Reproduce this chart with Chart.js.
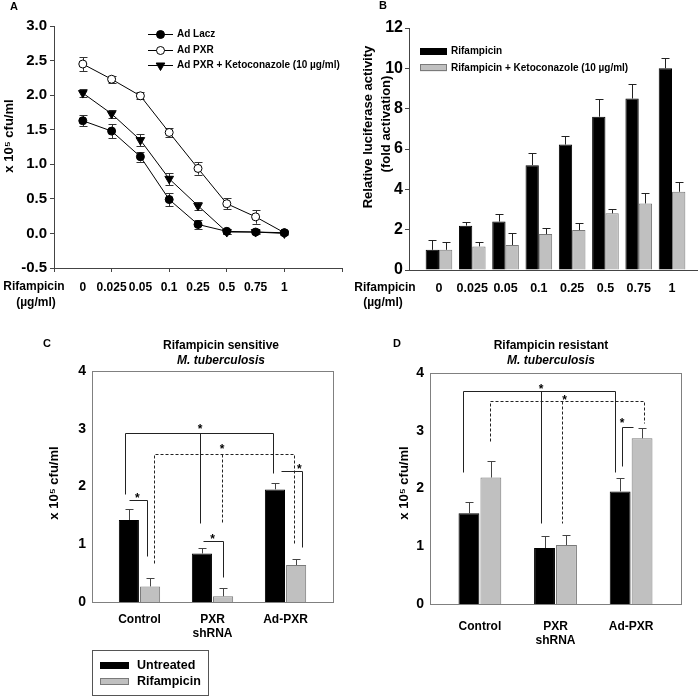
<!DOCTYPE html>
<html>
<head>
<meta charset="utf-8">
<script src="https://cdn.jsdelivr.net/npm/chart.js@4/dist/chart.umd.min.js"></script>
<style>
  body { margin: 0; background: #fff; width: 700px; height: 697px; position: relative; overflow: hidden; }
  canvas { position: absolute; }
</style>
</head>
<body>
<canvas id="chartA" width="350" height="340" style="left:0;top:0"></canvas>
<canvas id="chartB" width="350" height="340" style="left:350px;top:0"></canvas>
<canvas id="chartC" width="350" height="361" style="left:0;top:336px"></canvas>
<canvas id="chartD" width="350" height="361" style="left:350px;top:336px"></canvas>
<script>
// ---- data ----
const doseLabels = ['0', '0.025', '0.05', '0.1', '0.25', '0.5', '0.75', '1'];

// panel A, x 10^5 cfu/ml
const adLacz = [1.63, 1.48, 1.11, 0.49, 0.13, 0.03, 0.02, 0.01];
const adLaczErr = [0.08, 0.10, 0.07, 0.10, 0.07, 0.04, 0.03, 0.02];
const adPxr = [2.45, 2.23, 1.99, 1.46, 0.94, 0.43, 0.24, 0.01];
const adPxrErr = [0.10, 0.05, 0.05, 0.07, 0.09, 0.08, 0.10, 0.02];
const adPxrKeto = [2.03, 1.73, 1.35, 0.79, 0.40, 0.02, 0.02, 0.00];
const adPxrKetoErr = [0.06, 0.06, 0.09, 0.09, 0.06, 0.03, 0.02, 0.02];

// panel B, fold activation
const lucRif = [1.0, 2.2, 2.4, 5.2, 6.22, 7.6, 8.5, 10.0];
const lucRifErr = [0.5, 0.2, 0.4, 0.6, 0.4, 0.9, 0.7, 0.5];
const lucKeto = [1.0, 1.17, 1.24, 1.78, 1.98, 2.81, 3.3, 3.88];
const lucKetoErr = [0.4, 0.2, 0.6, 0.3, 0.35, 0.2, 0.53, 0.5];

// panels C and D
const groups = [['Control'], ['PXR', 'shRNA'], ['Ad-PXR']];
const sensUntreated = [1.42, 0.84, 1.95];
const sensUntreatedErr = [0.19, 0.09, 0.11];
const sensRif = [0.27, 0.10, 0.64];
const sensRifErr = [0.14, 0.14, 0.11];
const resUntreated = [1.57, 0.97, 1.95];
const resUntreatedErr = [0.20, 0.20, 0.24];
const resRif = [2.19, 1.02, 2.87];
const resRifErr = [0.28, 0.17, 0.17];

// significance brackets (data coords) and stars
const sensBrackets = [
  { dash: false, pts: [[0.80, 1.87], [0.80, 2.92], [2.83, 2.92], [2.83, 2.24]] },
  { dash: false, pts: [[1.83, 2.92], [1.83, 1.36]] },
  { dash: true, pts: [[1.20, 0.67], [1.20, 2.56], [3.11, 2.56], [3.11, 1.01]] },
  { dash: true, pts: [[2.13, 2.56], [2.13, 1.36]] },
  { dash: false, pts: [[0.85, 1.76], [1.10, 1.76], [1.10, 0.79]] },
  { dash: false, pts: [[1.87, 1.06], [2.15, 1.06], [2.15, 0.43]] },
  { dash: false, pts: [[2.94, 2.27], [3.22, 2.27], [3.22, 0.96]] }
];
const sensStars = [[1.83, 3.05], [2.13, 2.70], [0.97, 1.85], [2.0, 1.15], [3.19, 2.36]];
const resBrackets = [
  { dash: false, pts: [[0.78, 2.29], [0.78, 3.68], [2.79, 3.68], [2.79, 2.28]] },
  { dash: false, pts: [[1.81, 3.68], [1.81, 1.41]] },
  { dash: true, pts: [[1.13, 2.83], [1.13, 3.51], [3.17, 3.51], [3.17, 3.14]] },
  { dash: true, pts: [[2.09, 3.51], [2.09, 1.41]] },
  { dash: false, pts: [[2.88, 2.39], [2.88, 3.07], [3.03, 3.07]] }
];
const resStars = [[1.81, 3.78], [2.12, 3.59], [2.88, 3.19]];

// ---- helpers ----
const FAMILY = '"Liberation Sans", Arial, Helvetica, sans-serif';
const bold = (size, style = '') => `${style} bold ${size}px ${FAMILY}`;
const pts = arr => arr.map((v, i) => ({ x: i + 1, y: v }));

function text(ctx, s, x, y, font, align = 'center') {
  ctx.save();
  ctx.font = font;
  ctx.fillStyle = '#000';
  ctx.textAlign = align;
  ctx.textBaseline = 'middle';
  ctx.fillText(s, x, y);
  ctx.restore();
}
function vtext(ctx, s, x, y, font) {
  ctx.save();
  ctx.translate(x, y);
  ctx.rotate(-Math.PI / 2);
  text(ctx, s, 0, 0, font);
  ctx.restore();
}

function errorBars(id, mode, color, cap) {
  const draw = chart => {
    const ctx = chart.ctx, ys = chart.scales.y;
    ctx.save();
    ctx.strokeStyle = color;
    ctx.lineWidth = 1;
    chart.data.datasets.forEach((ds, di) => {
      const meta = chart.getDatasetMeta(di);
      meta.data.forEach((el, i) => {
        const v = ds.data[i].y, e = ds.err[i];
        const x = Math.round(el.x) + 0.5;
        const yTop = Math.round(ys.getPixelForValue(v + e)) + 0.5;
        const yBot = ys.getPixelForValue(mode === 'both' ? v - e : v);
        ctx.beginPath();
        ctx.moveTo(x, yBot);
        ctx.lineTo(x, yTop);
        ctx.moveTo(x - cap, yTop);
        ctx.lineTo(x + cap, yTop);
        if (mode === 'both') {
          const yb = Math.round(yBot) + 0.5;
          ctx.moveTo(x - cap, yb);
          ctx.lineTo(x + cap, yb);
        }
        ctx.stroke();
      });
    });
    ctx.restore();
  };
  return mode === 'both' ? { id, beforeDatasetsDraw: draw } : { id, afterDatasetsDraw: draw };
}

function brackets(lines, stars) {
  return {
    id: 'brackets',
    afterDatasetsDraw(chart) {
      const ctx = chart.ctx, xs = chart.scales.x, ys = chart.scales.y;
      ctx.save();
      ctx.strokeStyle = '#222';
      ctx.lineWidth = 1;
      lines.forEach(b => {
        ctx.setLineDash(b.dash ? [3, 2] : []);
        ctx.beginPath();
        b.pts.forEach(([vx, vy], k) => {
          const px = Math.round(xs.getPixelForValue(vx)) + 0.5;
          const py = Math.round(ys.getPixelForValue(vy)) + 0.5;
          if (k) ctx.lineTo(px, py); else ctx.moveTo(px, py);
        });
        ctx.stroke();
      });
      ctx.setLineDash([]);
      ctx.fillStyle = '#000';
      ctx.font = bold(12);
      ctx.textAlign = 'center';
      ctx.textBaseline = 'alphabetic';
      stars.forEach(([vx, vy]) => ctx.fillText('*', xs.getPixelForValue(vx), ys.getPixelForValue(vy) + 7));
      ctx.restore();
    }
  };
}

const boxPlugin = {
  id: 'box',
  afterDraw(chart) {
    const { left, top, right, bottom } = chart.chartArea;
    const ctx = chart.ctx;
    ctx.save();
    ctx.strokeStyle = '#808080';
    ctx.lineWidth = 1;
    ctx.strokeRect(Math.round(left) + 0.5, Math.round(top) + 0.5, Math.round(right - left), Math.round(bottom - top));
    ctx.restore();
  }
};

const tickFont = size => ({ family: FAMILY, size, weight: 'bold' });
const baseOpts = {
  responsive: false,
  animation: false,
  events: [],
  plugins: { legend: { display: false }, tooltip: { enabled: false } }
};

// ---- A: line chart ----
new Chart(document.getElementById('chartA'), {
  type: 'line',
  data: {
    datasets: [
      { label: 'Ad Lacz', data: pts(adLacz), err: adLaczErr, borderColor: '#000', borderWidth: 1,
        pointStyle: 'circle', pointRadius: 4, pointBackgroundColor: '#000', pointBorderColor: '#000' },
      { label: 'Ad PXR', data: pts(adPxr), err: adPxrErr, borderColor: '#000', borderWidth: 1,
        pointStyle: 'circle', pointRadius: 4, pointBackgroundColor: '#fff', pointBorderColor: '#000' },
      { label: 'Ad PXR + Ketoconazole (10 µg/ml)', data: pts(adPxrKeto), err: adPxrKetoErr, borderColor: '#000', borderWidth: 1,
        pointStyle: 'triangle', pointRotation: 180, pointRadius: 5, pointBackgroundColor: '#000', pointBorderColor: '#000' }
    ]
  },
  options: {
    ...baseOpts,
    layout: { padding: { top: 26, right: 3 } },
    scales: {
      x: {
        type: 'linear', min: 0, max: 10,
        afterBuildTicks: s => { s.ticks = Array.from({ length: 11 }, (_, v) => ({ value: v })); },
        afterFit: s => { s.height = 72; },
        grid: { drawOnChartArea: false, tickLength: 4, tickColor: c => (c.tick && c.tick.value % 2 === 0 ? '#444' : 'rgba(0,0,0,0)') },
        border: { color: '#444' },
        ticks: { autoSkip: false, maxRotation: 0, padding: 8, color: '#000', font: tickFont(12),
          callback: v => doseLabels[v - 1] ?? '' }
      },
      y: {
        min: -0.5, max: 3,
        afterFit: s => { s.width = 54; },
        grid: { drawOnChartArea: false, tickLength: 4, tickColor: '#444' },
        border: { color: '#444' },
        ticks: { stepSize: 0.5, padding: 3, color: '#000', font: tickFont(15), callback: v => v.toFixed(1) }
      }
    }
  },
  plugins: [errorBars('errA', 'both', '#333', 4), {
    id: 'decorA',
    afterDraw(chart) {
      const ctx = chart.ctx;
      text(ctx, 'A', 14, 7, bold(11));
      text(ctx, 'Rifampicin', 34, 287, bold(12));
      text(ctx, '(µg/ml)', 36, 303, bold(12));
      vtext(ctx, 'x 10⁵ cfu/ml', 9, 136, bold(13));
      chart.data.datasets.forEach((ds, i) => {
        const y = Math.round(34 + i * 15.7) + 0.5;
        ctx.save();
        ctx.strokeStyle = '#000';
        ctx.lineWidth = 1;
        ctx.beginPath();
        ctx.moveTo(148, y);
        ctx.lineTo(173, y);
        ctx.stroke();
        ctx.fillStyle = ds.pointBackgroundColor;
        ctx.strokeStyle = ds.pointBorderColor;
        Chart.helpers.drawPoint(ctx, { pointStyle: ds.pointStyle, radius: ds.pointRadius, rotation: ds.pointRotation || 0, borderWidth: 1 }, 160.5, y);
        ctx.restore();
        text(ctx, ds.label, 177, y, bold(10), 'left');
      });
    }
  }]
});

// ---- B: grouped bars ----
new Chart(document.getElementById('chartB'), {
  type: 'bar',
  data: {
    datasets: [
      { label: 'Rifampicin', data: pts(lucRif), err: lucRifErr, backgroundColor: '#000', borderColor: '#000', borderWidth: 1 },
      { label: 'Rifampicin + Ketoconazole (10 µg/ml)', data: pts(lucKeto), err: lucKetoErr, backgroundColor: '#c0c0c0', borderColor: '#7a7a7a', borderWidth: 1 }
    ]
  },
  options: {
    ...baseOpts,
    categoryPercentage: 0.8,
    barPercentage: 1.0,
    layout: { padding: { top: 28, right: 3 } },
    scales: {
      x: {
        type: 'linear', min: 0.1, max: 8.75, offset: false,
        afterBuildTicks: s => { s.ticks = doseLabels.map((_, i) => ({ value: i + 1 })); },
        afterFit: s => { s.height = 70; },
        grid: { display: true, drawOnChartArea: false, drawTicks: false, offset: false },
        border: { color: '#444' },
        ticks: { autoSkip: false, maxRotation: 0, padding: 11, color: '#000', font: tickFont(12.5),
          callback: v => doseLabels[v - 1] ?? '' }
      },
      y: {
        min: 0, max: 12,
        afterFit: s => { s.width = 59; },
        grid: { drawOnChartArea: false, tickLength: 4, tickColor: '#444' },
        border: { color: '#444' },
        ticks: { stepSize: 2, padding: 2, color: '#000', font: tickFont(16) }
      }
    }
  },
  plugins: [errorBars('errB', 'up', '#222', 4), {
    id: 'decorB',
    afterDraw(chart) {
      const ctx = chart.ctx;
      text(ctx, 'B', 33, 6, bold(11));
      text(ctx, 'Rifampicin', 35, 288, bold(12));
      text(ctx, '(µg/ml)', 33, 303, bold(12));
      vtext(ctx, 'Relative luciferase activity', 18, 127, bold(13));
      vtext(ctx, '(fold activation)', 36, 124, bold(13));
      chart.data.datasets.forEach((ds, i) => {
        const y = 48 + i * 16.3;
        ctx.save();
        ctx.fillStyle = ds.backgroundColor;
        ctx.fillRect(70, y, 27, 7);
        ctx.strokeStyle = ds.borderColor;
        ctx.strokeRect(70.5, Math.round(y) + 0.5, 26, 6);
        ctx.restore();
        text(ctx, ds.label, 101, y + 3.5, bold(10), 'left');
      });
    }
  }]
});

// ---- C and D: treatment bars ----
function cfuChart(id, untreated, untreatedErr, rif, rifErr, opts) {
  return new Chart(document.getElementById(id), {
    type: 'bar',
    data: {
      datasets: [
        { label: 'Untreated', data: pts(untreated), err: untreatedErr, backgroundColor: '#000', borderColor: '#000', borderWidth: 1 },
        { label: 'Rifampicin', data: pts(rif), err: rifErr, backgroundColor: '#c0c0c0', borderColor: '#7a7a7a', borderWidth: 1 }
      ]
    },
    options: {
      ...baseOpts,
      categoryPercentage: 0.58,
      barPercentage: 0.95,
      layout: { padding: { top: opts.top, right: opts.right } },
      scales: {
        x: {
          type: 'linear', min: opts.xmin, max: opts.xmax, offset: false,
          afterBuildTicks: s => { s.ticks = groups.map((_, i) => ({ value: i + 1 })); },
          afterFit: s => { s.height = opts.xh; },
          grid: { display: false, drawTicks: false, offset: false },
          border: { display: false },
          ticks: { autoSkip: false, maxRotation: 0, padding: opts.xpad, color: '#000', font: { ...tickFont(12), lineHeight: 1.2 },
            callback: v => groups[v - 1] ?? '' }
        },
        y: {
          min: 0, max: 4,
          afterFit: s => { s.width = opts.yw; },
          grid: { display: false, drawTicks: false },
          border: { display: false },
          ticks: { stepSize: 1, padding: 6, color: '#000', font: tickFont(14) }
        }
      }
    },
    plugins: [boxPlugin, errorBars('err' + id, 'up', '#444', 4), brackets(opts.brackets, opts.stars), {
      id: 'decor' + id,
      afterDraw(chart) {
        const ctx = chart.ctx;
        text(ctx, opts.letter, 47, 8, bold(11));
        text(ctx, opts.title, opts.titleX, 10, bold(12));
        text(ctx, 'M. tuberculosis', opts.titleX, 25, bold(12, 'italic'));
        vtext(ctx, 'x 10⁵ cfu/ml', 54, 147, bold(13));
        if (opts.legend) {
          ctx.save();
          ctx.strokeStyle = '#555';
          ctx.lineWidth = 1;
          ctx.strokeRect(92.5, 314.5, 116, 45);
          chart.data.datasets.forEach((ds, i) => {
            const y = 326 + i * 16;
            ctx.fillStyle = ds.backgroundColor;
            ctx.fillRect(100, y, 29, 7);
            ctx.strokeStyle = ds.borderColor;
            ctx.strokeRect(100.5, y + 0.5, 28, 6);
            text(ctx, ds.label, 137, y + 3.5, bold(12.5), 'left');
          });
          ctx.restore();
        }
      }
    }]
  });
}

cfuChart('chartC', sensUntreated, sensUntreatedErr, sensRif, sensRifErr, {
  letter: 'C', title: 'Rifampicin sensitive', titleX: 221,
  top: 35, right: 17, yw: 92, xh: 95, xpad: 10, xmin: 0.35, xmax: 3.65,
  brackets: sensBrackets, stars: sensStars, legend: true
});
cfuChart('chartD', resUntreated, resUntreatedErr, resRif, resRifErr, {
  letter: 'D', title: 'Rifampicin resistant', titleX: 201,
  top: 37, right: 19, yw: 80, xh: 93, xpad: 15, xmin: 0.34, xmax: 3.66,
  brackets: resBrackets, stars: resStars, legend: false
});
</script>
</body>
</html>
